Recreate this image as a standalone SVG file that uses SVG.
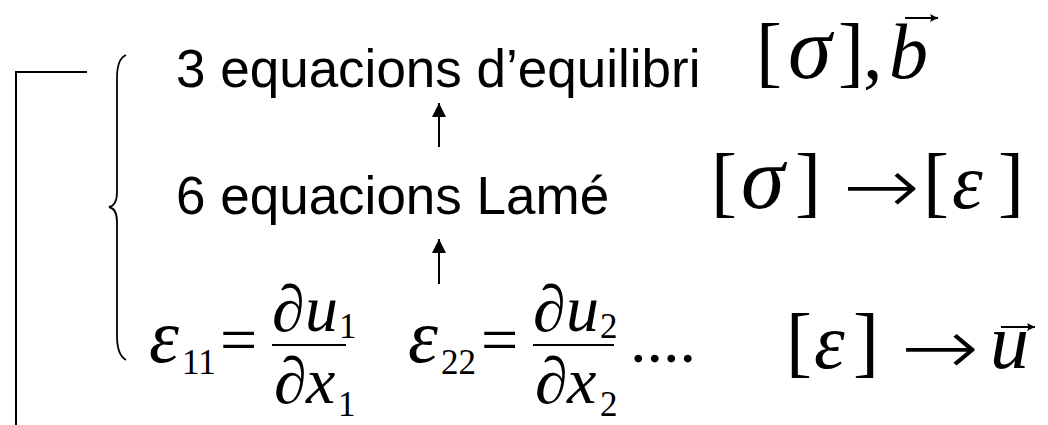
<svg xmlns="http://www.w3.org/2000/svg" width="1048" height="425" viewBox="0 0 1048 425">
<style>
.lbl{font-family:"Liberation Sans",Arial,sans-serif;font-size:53px;fill:#000}
.m{font-family:"Liberation Serif","Times New Roman",serif;fill:#000}
.it{font-style:italic}
.big{font-size:78px}
.sig{font-size:88px}
.eps{font-size:76px}
.mid{font-size:66px}
.sub{font-size:35px}
.arr{font-family:"DejaVu Sans",sans-serif;font-size:78px;font-weight:200;fill:#000}
.ln{stroke:#000;fill:none}
</style>
<defs>
<marker id="ah" viewBox="0 0 10 10" refX="10" refY="5" markerWidth="15" markerHeight="14" orient="auto" markerUnits="userSpaceOnUse">
<path d="M0,0 L10,5 L0,10 z" fill="#000"/>
</marker>
<marker id="vh" viewBox="0 0 10 10" refX="10" refY="5" markerWidth="9" markerHeight="8" orient="auto" markerUnits="userSpaceOnUse">
<path d="M0,0 L10,5 L0,10 L2,5 z" fill="#000"/>
</marker>
</defs>
<rect width="1048" height="425" fill="#fff"/>

<g id="frame">
<path class="ln" stroke-width="2" d="M87,72 H16 V425"/>
<path class="ln" stroke-width="1.8" d="M126,55 C119,58 117,66 117,78 L117,192 C117,202 114,206 109,207 C114,208 117,212 117,222 L117,336 C117,348 119,356 126,360"/>
</g>

<g id="node-equilibri">
<text class="lbl" x="176" y="87">3 equacions d’equilibri</text>
</g>
<g id="node-equilibri-math">
<text class="m big" y="78"><tspan x="756">[</tspan><tspan x="788" class="it sig">σ</tspan><tspan x="838">]</tspan><tspan x="863">,</tspan><tspan x="889" class="it">b</tspan></text>
<path class="ln" stroke-width="2" d="M905,18 H938" marker-end="url(#vh)"/>
</g>

<g id="node-lame">
<text class="lbl" x="176" y="214">6 equacions Lamé</text>
</g>
<g id="node-lame-math">
<text class="m big" y="208"><tspan x="711">[</tspan><tspan x="741" class="it sig">σ</tspan><tspan x="795">]</tspan></text>
<text class="arr" transform="translate(843,213) scale(1.18,1)">→</text>
<text class="m big" y="208"><tspan x="923">[</tspan><tspan x="952" class="it">ε</tspan><tspan x="998">]</tspan></text>
</g>

<g id="node-strain">
<text class="m it eps" x="149" y="362">ε</text>
<text class="m sub" x="182" y="374">11</text>
<text class="m mid" x="220" y="362">=</text>
<line class="ln" stroke-width="2" x1="272" y1="345" x2="346" y2="345"/>
<text class="m mid it" y="331"><tspan x="272">∂</tspan><tspan x="305">u</tspan></text>
<text class="m sub" x="339" y="338">1</text>
<text class="m mid it" y="403"><tspan x="274">∂</tspan><tspan x="306">x</tspan></text>
<text class="m sub" x="338" y="416">1</text>

<text class="m it eps" x="408" y="362">ε</text>
<text class="m sub" x="441" y="374">22</text>
<text class="m mid" x="481" y="362">=</text>
<line class="ln" stroke-width="2" x1="533" y1="345" x2="614" y2="345"/>
<text class="m mid it" y="331"><tspan x="533">∂</tspan><tspan x="566">u</tspan></text>
<text class="m sub" x="600" y="338">2</text>
<text class="m mid it" y="403"><tspan x="535">∂</tspan><tspan x="567">x</tspan></text>
<text class="m sub" x="600" y="416">2</text>
<text class="m mid" x="630" y="362">....</text>
</g>
<g id="node-strain-math">
<text class="m big" y="368"><tspan x="786">[</tspan><tspan x="814" class="it">ε</tspan><tspan x="853">]</tspan></text>
<text class="arr" transform="translate(901,374) scale(1.2,1)">→</text>
<text class="m big it" x="990" y="368">u</text>
<path class="ln" stroke-width="2" d="M1001,327 H1035" marker-end="url(#vh)"/>
</g>

<g id="connectors">
<line class="ln" stroke-width="2" x1="439" y1="147" x2="439" y2="103" marker-end="url(#ah)"/>
<line class="ln" stroke-width="2" x1="439" y1="284" x2="439" y2="239" marker-end="url(#ah)"/>
</g>
</svg>
